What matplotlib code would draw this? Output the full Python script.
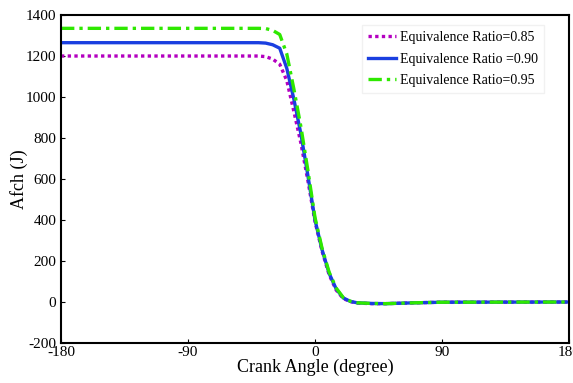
import matplotlib
matplotlib.use("Agg")
from matplotlib import pyplot as plt

# crank angle (degree) and Afch (J)
angle = [-180, -40, -35, -30, -25, -20, -15, -10, -5, 0, 5, 10, 15, 20, 25,
         30, 40, 50, 60, 70, 90, 180]
afch_085 = [1200, 1200, 1197, 1185, 1160, 1080, 930, 775, 590, 392, 248, 133,
            58, 17, 2, -5, -8, -8, -6, -4, -1, 0]
afch_090 = [1265, 1265, 1263, 1255, 1238, 1140, 990, 820, 615, 400, 255, 140,
            64, 20, 3, -4, -7, -8, -6, -4, -1, 0]
afch_095 = [1335, 1335, 1334, 1325, 1305, 1210, 1040, 855, 640, 412, 262, 146,
            68, 22, 4, -4, -7, -8, -6, -4, -1, 0]
labels = ["Equivalence Ratio=0.85", "Equivalence Ratio =0.90",
          "Equivalence Ratio=0.95"]
xticks = [-180, -90, 0, 90, 180]
yticks = [-200, 0, 200, 400, 600, 800, 1000, 1200, 1400]

plt.rcParams['font.family'] = ['Liberation Serif', 'DejaVu Serif']
plt.rcParams['axes.unicode_minus'] = False

fig = plt.figure(figsize=(5.73, 3.83), dpi=100)
ax = fig.add_axes([0.1065, 0.1044, 0.8865, 0.8564])

ax.plot(angle, afch_085, color='#b400c0', lw=2.4, linestyle=(0, (1, 1)),
        label=labels[0])
ax.plot(angle, afch_090, color='#1a3fe0', lw=2.4, label=labels[1])
ax.plot(angle, afch_095, color='#2ee800', lw=2.4,
        linestyle=(0, (4, 1.5, 1, 1.5)), label=labels[2])

ax.set_xlim(-180, 180)
ax.set_ylim(-200, 1400)
ax.set_xticks(xticks)
ax.set_yticks(yticks)
ax.tick_params(direction='in', length=3, width=0.8, labelsize=11)
ax.tick_params(axis='x', pad=2)
for s in ax.spines.values():
    s.set_linewidth(1.5)

ax.set_xlabel("Crank Angle (degree)", fontsize=13, labelpad=0)
ax.set_ylabel("Afch (J)", fontsize=13, labelpad=-2)

leg = ax.legend(loc='upper right', bbox_to_anchor=(0.951, 0.9695),
                borderaxespad=0, fontsize=10, frameon=True, fancybox=False,
                handlelength=2.0, handletextpad=0.3, labelspacing=0.6,
                borderpad=0.45)
leg.get_frame().set_edgecolor('#eeeeee')
leg.get_frame().set_linewidth(1.0)

fig.savefig("out.png", dpi=100)
